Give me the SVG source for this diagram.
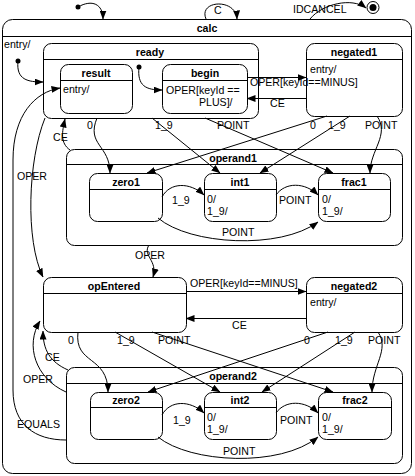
<svg xmlns="http://www.w3.org/2000/svg" width="415" height="476" viewBox="0 0 415 476">
<style>
text{font-family:"Liberation Sans",Arial,sans-serif;font-size:10.6px;fill:#000}
.t{font-weight:bold;text-anchor:middle}
.box{fill:#fff;stroke:#000;stroke-width:1}
.hd{stroke:#000;stroke-width:1}
.tr{fill:none;stroke:#000;stroke-width:1;marker-end:url(#ah)}
.dot{fill:#000}
</style>
<defs>
<marker id="ah" markerWidth="9" markerHeight="7" refX="8.5" refY="3.5" orient="auto" markerUnits="userSpaceOnUse">
<path d="M0,0 L9,3.5 L0,7 z" fill="#000"/>
</marker>
</defs>
<rect width="415" height="476" fill="#fff"/>

<g id="calc">
<rect class="box" x="2.5" y="19.5" width="409" height="454" rx="10"/>
<line class="hd" x1="2.5" y1="36.5" x2="411.5" y2="36.5"/>
<text class="t" x="207" y="32">calc</text>
<text x="4" y="48">entry/</text>
</g>

<g id="ready">
<rect class="box" x="43.5" y="43.5" width="215" height="75" rx="8"/>
<line class="hd" x1="43.5" y1="59.5" x2="258.5" y2="59.5"/>
<text class="t" x="150" y="56">ready</text>
</g>
<g id="result">
<rect class="box" x="60.5" y="64.5" width="72" height="49" rx="8"/>
<line class="hd" x1="60.5" y1="80.5" x2="132.5" y2="80.5"/>
<text class="t" x="96" y="77">result</text>
<text x="63" y="93">entry/</text>
</g>
<g id="begin">
<rect class="box" x="162.5" y="64.5" width="85" height="49" rx="8"/>
<line class="hd" x1="162.5" y1="80.5" x2="247.5" y2="80.5"/>
<text class="t" x="205" y="77">begin</text>
<text x="166" y="94">OPER[keyId ==</text>
<text x="199" y="106">PLUS]/</text>
</g>
<g id="negated1">
<rect class="box" x="306.5" y="43.5" width="96" height="73" rx="8"/>
<line class="hd" x1="306.5" y1="59.5" x2="402.5" y2="59.5"/>
<text class="t" x="354" y="56">negated1</text>
<text x="310" y="73">entry/</text>
</g>

<g id="operand1">
<rect class="box" x="66.5" y="149.5" width="336" height="96" rx="8"/>
<line class="hd" x1="66.5" y1="164.5" x2="402.5" y2="164.5"/>
<text class="t" x="233" y="162">operand1</text>
</g>
<g id="zero1">
<rect class="box" x="89.5" y="173.5" width="73" height="48" rx="8"/>
<line class="hd" x1="89.5" y1="189.5" x2="162.5" y2="189.5"/>
<text class="t" x="126" y="186">zero1</text>
</g>
<g id="int1">
<rect class="box" x="204.5" y="173.5" width="72" height="48" rx="8"/>
<line class="hd" x1="204.5" y1="189.5" x2="276.5" y2="189.5"/>
<text class="t" x="240" y="186">int1</text>
<text x="207" y="203">0/</text>
<text x="207" y="215">1_9/</text>
</g>
<g id="frac1">
<rect class="box" x="318.5" y="173.5" width="72" height="48" rx="8"/>
<line class="hd" x1="318.5" y1="189.5" x2="390.5" y2="189.5"/>
<text class="t" x="354" y="186">frac1</text>
<text x="322" y="203">0/</text>
<text x="322" y="215">1_9/</text>
</g>

<g id="opEntered">
<rect class="box" x="43.5" y="277.5" width="143" height="55" rx="8"/>
<line class="hd" x1="43.5" y1="293.5" x2="186.5" y2="293.5"/>
<text class="t" x="114" y="290">opEntered</text>
</g>
<g id="negated2">
<rect class="box" x="306.5" y="277.5" width="96" height="55" rx="8"/>
<line class="hd" x1="306.5" y1="293.5" x2="402.5" y2="293.5"/>
<text class="t" x="354" y="290">negated2</text>
<text x="310" y="306">entry/</text>
</g>

<g id="operand2">
<rect class="box" x="66.5" y="367.5" width="336" height="96" rx="8"/>
<line class="hd" x1="66.5" y1="383.5" x2="402.5" y2="383.5"/>
<text class="t" x="233" y="380">operand2</text>
</g>
<g id="zero2">
<rect class="box" x="90.5" y="392.5" width="72" height="47" rx="8"/>
<line class="hd" x1="90.5" y1="407.5" x2="162.5" y2="407.5"/>
<text class="t" x="126" y="404">zero2</text>
</g>
<g id="int2">
<rect class="box" x="204.5" y="392.5" width="72" height="47" rx="8"/>
<line class="hd" x1="204.5" y1="407.5" x2="276.5" y2="407.5"/>
<text class="t" x="240" y="404">int2</text>
<text x="207" y="421">0/</text>
<text x="207" y="433">1_9/</text>
</g>
<g id="frac2">
<rect class="box" x="318.5" y="392.5" width="73" height="47" rx="8"/>
<line class="hd" x1="318.5" y1="407.5" x2="391.5" y2="407.5"/>
<text class="t" x="355" y="404">frac2</text>
<text x="322" y="421">0/</text>
<text x="322" y="433">1_9/</text>
</g>

<g id="final">
<circle cx="373" cy="7.5" r="6" fill="#fff" stroke="#000" stroke-width="1"/>
<circle cx="373" cy="7.5" r="3.5" fill="#000"/>
</g>

<g id="connectors">
<circle class="dot" cx="78" cy="7" r="2.5"/>
<path class="tr" d="M78,7 C92,-1 103,4 103,19"/>
<path class="tr" d="M206,19 C198,0 236,-2 237,19"/>
<text x="214" y="14">C</text>
<path class="tr" d="M310,19 C322,4 352,-3 366,8"/>
<text x="293" y="13">IDCANCEL</text>

<circle class="dot" cx="18" cy="61" r="2.5"/>
<path class="tr" d="M18,61 C16,80 28,82 43,82"/>
<circle class="dot" cx="139" cy="67" r="2.5"/>
<path class="tr" d="M139,67 C137,86 146,90 162,90"/>

<path class="tr" d="M247,77.5 L306,77.5"/>
<text x="250" y="86">OPER[keyId==MINUS]</text>
<path class="tr" d="M306,98.5 L247,98.5"/>
<text x="270" y="107">CE</text>

<path class="tr" d="M97,118 C86,145 110,145 110,173"/>
<text x="87" y="129">0</text>
<path class="tr" d="M152,118 L220,173"/>
<text x="155" y="129">1_9</text>
<path class="tr" d="M205,118 L333,173"/>
<text x="217" y="129">POINT</text>
<path class="tr" d="M327,116 L147,173"/>
<text x="310" y="129">0</text>
<path class="tr" d="M350,116 L260,173"/>
<text x="328" y="129">1_9</text>
<path class="tr" d="M377,116 C390,135 370,150 370,173"/>
<text x="365" y="129">POINT</text>

<path class="tr" d="M162,197 C170,182 190,182 204,195"/>
<text x="172" y="204">1_9</text>
<path class="tr" d="M276,195 C285,182 305,182 318,195"/>
<text x="279" y="204">POINT</text>
<path class="tr" d="M158,218 C190,245 280,250 318,222"/>
<text x="222" y="236">POINT</text>

<path class="tr" d="M70,150 C60,143 62,132 65,119"/>
<text x="53" y="141">CE</text>
<path class="tr" d="M45,118 C28,160 25,240 43,277"/>
<text x="17" y="180">OPER</text>
<path class="tr" d="M66,440 C35,440 13,425 13,390 L13,160 C13,115 35,92 60,88"/>
<text x="17" y="428">EQUALS</text>

<path class="tr" d="M149,245 C142,256 158,260 153,277"/>
<text x="135" y="259">OPER</text>

<path class="tr" d="M186,291.5 L306,291.5"/>
<text x="190" y="287">OPER[keyId==MINUS]</text>
<path class="tr" d="M306,318.5 L186,318.5"/>
<text x="232" y="329">CE</text>

<path class="tr" d="M78,332 C74,365 108,355 108,392"/>
<text x="68" y="344">0</text>
<path class="tr" d="M115,332 L220,392"/>
<text x="117" y="344">1_9</text>
<path class="tr" d="M152,332 L333,392"/>
<text x="158" y="344">POINT</text>
<path class="tr" d="M328,332 L148,392"/>
<text x="304" y="344">0</text>
<path class="tr" d="M355,332 L262,392"/>
<text x="335" y="344">1_9</text>
<path class="tr" d="M378,332 C390,350 372,365 372,392"/>
<text x="368" y="344">POINT</text>

<path class="tr" d="M68,370 C50,362 43,350 43,331"/>
<text x="45" y="361">CE</text>
<path class="tr" d="M66,392 C35,378 25,345 40,321"/>
<text x="23" y="383">OPER</text>

<path class="tr" d="M162,415 C170,400 190,400 204,413"/>
<text x="173" y="424">1_9</text>
<path class="tr" d="M276,413 C285,400 305,400 318,413"/>
<text x="280" y="424">POINT</text>
<path class="tr" d="M158,437 C190,463 280,468 318,437"/>
<text x="223" y="455">POINT</text>
</g>
</svg>
